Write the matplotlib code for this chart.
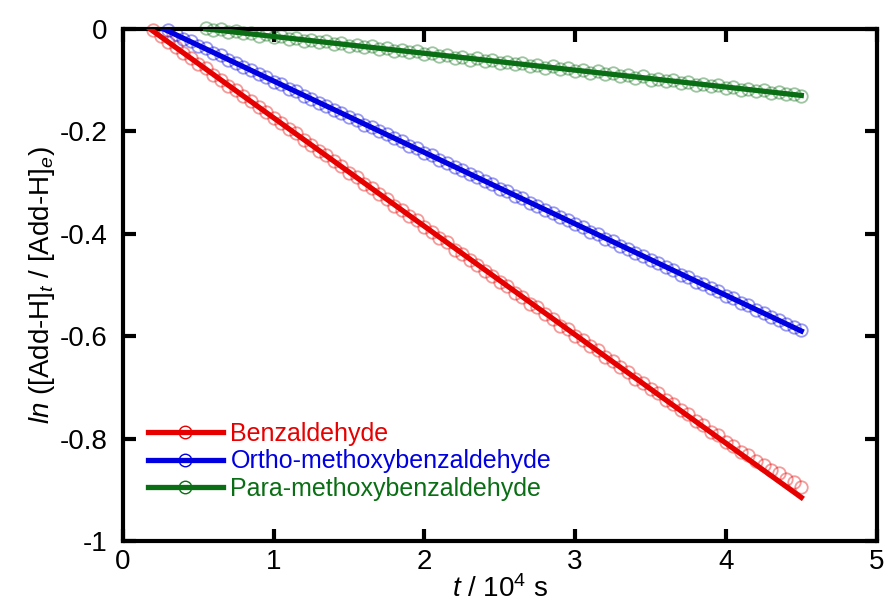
import numpy as np
import matplotlib.pyplot as plt
from matplotlib.lines import Line2D

plt.rcParams['font.family'] = ['Liberation Sans', 'DejaVu Sans']
plt.rcParams['mathtext.fontset'] = 'custom'
plt.rcParams['mathtext.rm'] = 'Liberation Sans'
plt.rcParams['mathtext.it'] = 'Liberation Sans:italic'
plt.rcParams['axes.unicode_minus'] = False

# time axis, 10^4 s
t = [0.20, 0.25, 0.30, 0.35, 0.40, 0.45, 0.50, 0.55, 0.60, 0.65,
     0.70, 0.75, 0.80, 0.85, 0.90, 0.95, 1.00, 1.05, 1.10, 1.15,
     1.20, 1.25, 1.30, 1.35, 1.40, 1.45, 1.50, 1.55, 1.60, 1.65,
     1.70, 1.75, 1.80, 1.85, 1.90, 1.95, 2.00, 2.05, 2.10, 2.15,
     2.20, 2.25, 2.30, 2.35, 2.40, 2.45, 2.50, 2.55, 2.60, 2.65,
     2.70, 2.75, 2.80, 2.85, 2.90, 2.95, 3.00, 3.05, 3.10, 3.15,
     3.20, 3.25, 3.30, 3.35, 3.40, 3.45, 3.50, 3.55, 3.60, 3.65,
     3.70, 3.75, 3.80, 3.85, 3.90, 3.95, 4.00, 4.05, 4.10, 4.15,
     4.20, 4.25, 4.30, 4.35, 4.40, 4.45, 4.50]

benz = [-0.003, -0.014, -0.026, -0.035, -0.048, -0.056, -0.069, -0.077, -0.090, -0.099,
        -0.111, -0.120, -0.132, -0.141, -0.153, -0.162, -0.175, -0.183, -0.196, -0.204,
        -0.217, -0.226, -0.238, -0.247, -0.259, -0.268, -0.281, -0.289, -0.302, -0.311,
        -0.323, -0.332, -0.345, -0.353, -0.366, -0.374, -0.387, -0.396, -0.409, -0.417,
        -0.431, -0.439, -0.452, -0.461, -0.473, -0.482, -0.495, -0.503, -0.516, -0.524,
        -0.537, -0.544, -0.557, -0.566, -0.580, -0.587, -0.600, -0.607, -0.620, -0.628,
        -0.641, -0.649, -0.661, -0.670, -0.683, -0.691, -0.704, -0.712, -0.725, -0.733,
        -0.745, -0.753, -0.766, -0.774, -0.787, -0.794, -0.806, -0.814, -0.826, -0.833,
        -0.843, -0.851, -0.862, -0.868, -0.879, -0.885, -0.895]

ortho = [-0.003, -0.010, -0.019, -0.024, -0.033, -0.038, -0.047, -0.052,
         -0.061, -0.066, -0.075, -0.080, -0.089, -0.094, -0.103, -0.108, -0.117, -0.122,
         -0.131, -0.136, -0.145, -0.150, -0.159, -0.164, -0.173, -0.178, -0.187, -0.191,
         -0.200, -0.205, -0.214, -0.219, -0.228, -0.233, -0.242, -0.247, -0.256, -0.261,
         -0.270, -0.275, -0.284, -0.289, -0.298, -0.303, -0.312, -0.317, -0.326, -0.331,
         -0.340, -0.345, -0.354, -0.359, -0.368, -0.373, -0.382, -0.387, -0.396, -0.401,
         -0.410, -0.415, -0.424, -0.429, -0.438, -0.443, -0.452, -0.457, -0.466, -0.471,
         -0.480, -0.485, -0.494, -0.498, -0.507, -0.512, -0.521, -0.526, -0.535, -0.540,
         -0.549, -0.554, -0.563, -0.568, -0.577, -0.582, -0.589]

para = [0.001, -0.002, -0.001, -0.006, -0.005, -0.009, -0.008, -0.013, -0.011, -0.016,
        -0.014, -0.019, -0.018, -0.023, -0.021, -0.026, -0.024, -0.030, -0.028, -0.033,
        -0.031, -0.036, -0.034, -0.040, -0.037, -0.043, -0.041, -0.046, -0.044, -0.050,
        -0.047, -0.053, -0.051, -0.056, -0.054, -0.060, -0.057, -0.063, -0.060, -0.066,
        -0.064, -0.069, -0.067, -0.073, -0.070, -0.076, -0.073, -0.079, -0.077, -0.082,
        -0.080, -0.086, -0.083, -0.089, -0.087, -0.092, -0.090, -0.096, -0.093, -0.099,
        -0.097, -0.102, -0.100, -0.106, -0.103, -0.109, -0.107, -0.112, -0.110, -0.116,
        -0.113, -0.119, -0.117, -0.122, -0.120, -0.126, -0.123, -0.128, -0.127, -0.131]

# linear fits (end points)
benz_fit_t, benz_fit_y = [0.18, 4.50], [0.0, -0.915]
ortho_fit_t, ortho_fit_y = [0.27, 4.50], [0.0, -0.590]
para_fit_t, para_fit_y = [0.55, 4.50], [0.0, -0.130]

names = ['Benzaldehyde', 'Ortho-methoxybenzaldehyde', 'Para-methoxybenzaldehyde']
colors = ['#e60000', '#0000e0', '#0a6e14']

fig = plt.figure(figsize=(8.9, 6.14), dpi=100)
ax = fig.add_axes([0.138, 0.119, 0.847, 0.834])

series = [(t, benz, benz_fit_t, benz_fit_y),
          (t[2:], ortho, ortho_fit_t, ortho_fit_y),
          (t[7:], para, para_fit_t, para_fit_y)]

for (tx, y, ft, fy), c in zip(series, colors):
    ax.plot(tx, y, 'o', mfc='none', mec=c, mew=1.3, ms=9, alpha=0.4, clip_on=False, zorder=2)
for (tx, y, ft, fy), c in zip(series, colors):
    ax.plot(ft, fy, '-', color=c, lw=3.8, zorder=3)

ax.set_xlim(0, 5)
ax.set_ylim(-1, 0)
ax.set_xticks([0, 1, 2, 3, 4, 5])
ax.set_xticklabels(['0', '1', '2', '3', '4', '5'])
ax.set_yticks([-1, -0.8, -0.6, -0.4, -0.2, 0])
ax.set_yticklabels(['-1', '-0.8', '-0.6', '-0.4', '-0.2', '0'])
for s in ax.spines.values():
    s.set_linewidth(3)
ax.tick_params(direction='in', length=9, width=3, top=True, right=True, labelsize=20)
ax.tick_params(axis='x', pad=6)
ax.tick_params(axis='y', pad=11)

ax.set_xlabel(r'$\mathit{t}$ / 10$^4$ s', fontsize=20, labelpad=0)
ax.set_ylabel(r'$\mathit{ln}$ ([Add-H]$_\mathit{t}$ / [Add-H]$_\mathit{e}$)', fontsize=20, labelpad=2)

handles = [Line2D([0, 1, 2], [0, 0, 0], color=c, lw=3.8, marker='o', ms=9, mfc='none',
                  mec=c, markevery=[1]) for c in colors]
leg = ax.legend(handles, names, loc='lower left', bbox_to_anchor=(0.02, 0.058), frameon=False,
                fontsize=18, handlelength=3.0, handletextpad=0.3, labelspacing=0.15,
                borderaxespad=0)
for txt, c in zip(leg.get_texts(), colors):
    txt.set_color(c)

plt.savefig('out.png', dpi=100)
